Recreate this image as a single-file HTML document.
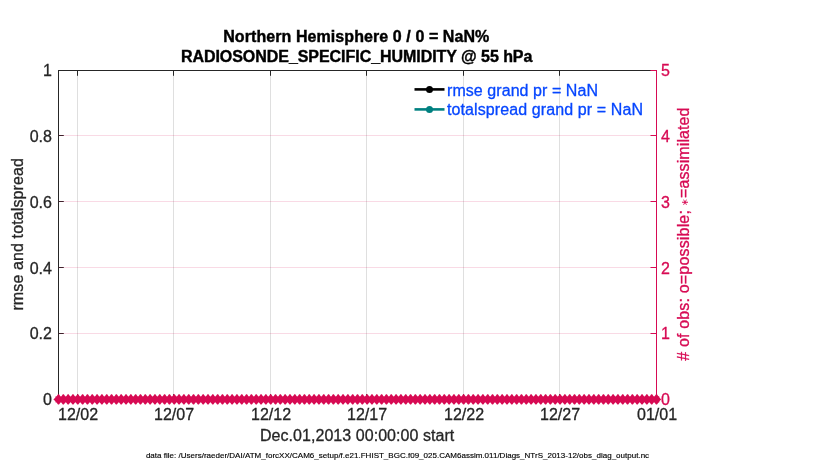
<!DOCTYPE html>
<html lang="en"><head><meta charset="utf-8"><title>RADIOSONDE_SPECIFIC_HUMIDITY @ 55 hPa</title>
<style>html,body{margin:0;padding:0;background:#fff;}body{width:830px;height:470px;overflow:hidden;}svg{display:block;font-family:'Liberation Sans', sans-serif;}text{white-space:pre;}</style>
</head><body>
<svg width="830" height="470" viewBox="0 0 830 470">
<rect x="0" y="0" width="830" height="470" fill="#ffffff"/>
<g stroke="#262626" stroke-opacity="0.15" stroke-width="1">
<line x1="77.50" y1="70.5" x2="77.50" y2="399.5"/>
<line x1="173.50" y1="70.5" x2="173.50" y2="399.5"/>
<line x1="270.50" y1="70.5" x2="270.50" y2="399.5"/>
<line x1="366.50" y1="70.5" x2="366.50" y2="399.5"/>
<line x1="463.50" y1="70.5" x2="463.50" y2="399.5"/>
<line x1="559.50" y1="70.5" x2="559.50" y2="399.5"/>
</g>
<g stroke="#262626" stroke-width="1" fill="none">
<line x1="58.5" y1="70.0" x2="58.5" y2="400.0"/>
<line x1="58.0" y1="70.5" x2="656.5" y2="70.5"/>
<line x1="58.5" y1="399.5" x2="656.5" y2="399.5"/>
<line x1="77.50" y1="70.5" x2="77.50" y2="75.8"/>
<line x1="77.50" y1="399.5" x2="77.50" y2="394.2"/>
<line x1="173.50" y1="70.5" x2="173.50" y2="75.8"/>
<line x1="173.50" y1="399.5" x2="173.50" y2="394.2"/>
<line x1="270.50" y1="70.5" x2="270.50" y2="75.8"/>
<line x1="270.50" y1="399.5" x2="270.50" y2="394.2"/>
<line x1="366.50" y1="70.5" x2="366.50" y2="75.8"/>
<line x1="366.50" y1="399.5" x2="366.50" y2="394.2"/>
<line x1="463.50" y1="70.5" x2="463.50" y2="75.8"/>
<line x1="463.50" y1="399.5" x2="463.50" y2="394.2"/>
<line x1="559.50" y1="70.5" x2="559.50" y2="75.8"/>
<line x1="559.50" y1="399.5" x2="559.50" y2="394.2"/>
<line x1="58.5" y1="399.50" x2="63.8" y2="399.50"/>
<line x1="58.5" y1="333.50" x2="63.8" y2="333.50"/>
<line x1="58.5" y1="267.50" x2="63.8" y2="267.50"/>
<line x1="58.5" y1="201.50" x2="63.8" y2="201.50"/>
<line x1="58.5" y1="135.50" x2="63.8" y2="135.50"/>
<line x1="58.5" y1="70.50" x2="63.8" y2="70.50"/>
</g>
<g stroke="#d70a53" stroke-opacity="0.15" stroke-width="1">
<line x1="58.5" y1="333.50" x2="656.5" y2="333.50"/>
<line x1="58.5" y1="267.50" x2="656.5" y2="267.50"/>
<line x1="58.5" y1="201.50" x2="656.5" y2="201.50"/>
<line x1="58.5" y1="135.50" x2="656.5" y2="135.50"/>
</g>
<g stroke="#d70a53" stroke-width="1" fill="none">
<line x1="656.5" y1="70.0" x2="656.5" y2="400.0"/>
<line x1="656.5" y1="399.50" x2="650.5" y2="399.50"/>
<line x1="656.5" y1="333.50" x2="650.5" y2="333.50"/>
<line x1="656.5" y1="267.50" x2="650.5" y2="267.50"/>
<line x1="656.5" y1="201.50" x2="650.5" y2="201.50"/>
<line x1="656.5" y1="135.50" x2="650.5" y2="135.50"/>
<line x1="656.5" y1="70.50" x2="650.5" y2="70.50"/>
</g>
<path fill="#d70a53" stroke="none" d="M661.2 399.4l-1.6 -1.6l-0.5 -1.5h-2.6v6.2h2.6l0.5 -1.5z"/>
<path fill="#d70a53" stroke="none" d="M56.50 396.4l1.5 -2.2h1l1.5 2.2v6l-1.5 2.2h-1l-1.5 -2.2zM61.32 396.4l1.5 -2.2h1l1.5 2.2v6l-1.5 2.2h-1l-1.5 -2.2zM66.15 396.4l1.5 -2.2h1l1.5 2.2v6l-1.5 2.2h-1l-1.5 -2.2zM70.97 396.4l1.5 -2.2h1l1.5 2.2v6l-1.5 2.2h-1l-1.5 -2.2zM75.79 396.4l1.5 -2.2h1l1.5 2.2v6l-1.5 2.2h-1l-1.5 -2.2zM80.61 396.4l1.5 -2.2h1l1.5 2.2v6l-1.5 2.2h-1l-1.5 -2.2zM85.44 396.4l1.5 -2.2h1l1.5 2.2v6l-1.5 2.2h-1l-1.5 -2.2zM90.26 396.4l1.5 -2.2h1l1.5 2.2v6l-1.5 2.2h-1l-1.5 -2.2zM95.08 396.4l1.5 -2.2h1l1.5 2.2v6l-1.5 2.2h-1l-1.5 -2.2zM99.90 396.4l1.5 -2.2h1l1.5 2.2v6l-1.5 2.2h-1l-1.5 -2.2zM104.73 396.4l1.5 -2.2h1l1.5 2.2v6l-1.5 2.2h-1l-1.5 -2.2zM109.55 396.4l1.5 -2.2h1l1.5 2.2v6l-1.5 2.2h-1l-1.5 -2.2zM114.37 396.4l1.5 -2.2h1l1.5 2.2v6l-1.5 2.2h-1l-1.5 -2.2zM119.19 396.4l1.5 -2.2h1l1.5 2.2v6l-1.5 2.2h-1l-1.5 -2.2zM124.02 396.4l1.5 -2.2h1l1.5 2.2v6l-1.5 2.2h-1l-1.5 -2.2zM128.84 396.4l1.5 -2.2h1l1.5 2.2v6l-1.5 2.2h-1l-1.5 -2.2zM133.66 396.4l1.5 -2.2h1l1.5 2.2v6l-1.5 2.2h-1l-1.5 -2.2zM138.48 396.4l1.5 -2.2h1l1.5 2.2v6l-1.5 2.2h-1l-1.5 -2.2zM143.31 396.4l1.5 -2.2h1l1.5 2.2v6l-1.5 2.2h-1l-1.5 -2.2zM148.13 396.4l1.5 -2.2h1l1.5 2.2v6l-1.5 2.2h-1l-1.5 -2.2zM152.95 396.4l1.5 -2.2h1l1.5 2.2v6l-1.5 2.2h-1l-1.5 -2.2zM157.77 396.4l1.5 -2.2h1l1.5 2.2v6l-1.5 2.2h-1l-1.5 -2.2zM162.60 396.4l1.5 -2.2h1l1.5 2.2v6l-1.5 2.2h-1l-1.5 -2.2zM167.42 396.4l1.5 -2.2h1l1.5 2.2v6l-1.5 2.2h-1l-1.5 -2.2zM172.24 396.4l1.5 -2.2h1l1.5 2.2v6l-1.5 2.2h-1l-1.5 -2.2zM177.06 396.4l1.5 -2.2h1l1.5 2.2v6l-1.5 2.2h-1l-1.5 -2.2zM181.89 396.4l1.5 -2.2h1l1.5 2.2v6l-1.5 2.2h-1l-1.5 -2.2zM186.71 396.4l1.5 -2.2h1l1.5 2.2v6l-1.5 2.2h-1l-1.5 -2.2zM191.53 396.4l1.5 -2.2h1l1.5 2.2v6l-1.5 2.2h-1l-1.5 -2.2zM196.35 396.4l1.5 -2.2h1l1.5 2.2v6l-1.5 2.2h-1l-1.5 -2.2zM201.18 396.4l1.5 -2.2h1l1.5 2.2v6l-1.5 2.2h-1l-1.5 -2.2zM206.00 396.4l1.5 -2.2h1l1.5 2.2v6l-1.5 2.2h-1l-1.5 -2.2zM210.82 396.4l1.5 -2.2h1l1.5 2.2v6l-1.5 2.2h-1l-1.5 -2.2zM215.65 396.4l1.5 -2.2h1l1.5 2.2v6l-1.5 2.2h-1l-1.5 -2.2zM220.47 396.4l1.5 -2.2h1l1.5 2.2v6l-1.5 2.2h-1l-1.5 -2.2zM225.29 396.4l1.5 -2.2h1l1.5 2.2v6l-1.5 2.2h-1l-1.5 -2.2zM230.11 396.4l1.5 -2.2h1l1.5 2.2v6l-1.5 2.2h-1l-1.5 -2.2zM234.94 396.4l1.5 -2.2h1l1.5 2.2v6l-1.5 2.2h-1l-1.5 -2.2zM239.76 396.4l1.5 -2.2h1l1.5 2.2v6l-1.5 2.2h-1l-1.5 -2.2zM244.58 396.4l1.5 -2.2h1l1.5 2.2v6l-1.5 2.2h-1l-1.5 -2.2zM249.40 396.4l1.5 -2.2h1l1.5 2.2v6l-1.5 2.2h-1l-1.5 -2.2zM254.23 396.4l1.5 -2.2h1l1.5 2.2v6l-1.5 2.2h-1l-1.5 -2.2zM259.05 396.4l1.5 -2.2h1l1.5 2.2v6l-1.5 2.2h-1l-1.5 -2.2zM263.87 396.4l1.5 -2.2h1l1.5 2.2v6l-1.5 2.2h-1l-1.5 -2.2zM268.69 396.4l1.5 -2.2h1l1.5 2.2v6l-1.5 2.2h-1l-1.5 -2.2zM273.52 396.4l1.5 -2.2h1l1.5 2.2v6l-1.5 2.2h-1l-1.5 -2.2zM278.34 396.4l1.5 -2.2h1l1.5 2.2v6l-1.5 2.2h-1l-1.5 -2.2zM283.16 396.4l1.5 -2.2h1l1.5 2.2v6l-1.5 2.2h-1l-1.5 -2.2zM287.98 396.4l1.5 -2.2h1l1.5 2.2v6l-1.5 2.2h-1l-1.5 -2.2zM292.81 396.4l1.5 -2.2h1l1.5 2.2v6l-1.5 2.2h-1l-1.5 -2.2zM297.63 396.4l1.5 -2.2h1l1.5 2.2v6l-1.5 2.2h-1l-1.5 -2.2zM302.45 396.4l1.5 -2.2h1l1.5 2.2v6l-1.5 2.2h-1l-1.5 -2.2zM307.27 396.4l1.5 -2.2h1l1.5 2.2v6l-1.5 2.2h-1l-1.5 -2.2zM312.10 396.4l1.5 -2.2h1l1.5 2.2v6l-1.5 2.2h-1l-1.5 -2.2zM316.92 396.4l1.5 -2.2h1l1.5 2.2v6l-1.5 2.2h-1l-1.5 -2.2zM321.74 396.4l1.5 -2.2h1l1.5 2.2v6l-1.5 2.2h-1l-1.5 -2.2zM326.56 396.4l1.5 -2.2h1l1.5 2.2v6l-1.5 2.2h-1l-1.5 -2.2zM331.39 396.4l1.5 -2.2h1l1.5 2.2v6l-1.5 2.2h-1l-1.5 -2.2zM336.21 396.4l1.5 -2.2h1l1.5 2.2v6l-1.5 2.2h-1l-1.5 -2.2zM341.03 396.4l1.5 -2.2h1l1.5 2.2v6l-1.5 2.2h-1l-1.5 -2.2zM345.85 396.4l1.5 -2.2h1l1.5 2.2v6l-1.5 2.2h-1l-1.5 -2.2zM350.68 396.4l1.5 -2.2h1l1.5 2.2v6l-1.5 2.2h-1l-1.5 -2.2zM355.50 396.4l1.5 -2.2h1l1.5 2.2v6l-1.5 2.2h-1l-1.5 -2.2zM360.32 396.4l1.5 -2.2h1l1.5 2.2v6l-1.5 2.2h-1l-1.5 -2.2zM365.15 396.4l1.5 -2.2h1l1.5 2.2v6l-1.5 2.2h-1l-1.5 -2.2zM369.97 396.4l1.5 -2.2h1l1.5 2.2v6l-1.5 2.2h-1l-1.5 -2.2zM374.79 396.4l1.5 -2.2h1l1.5 2.2v6l-1.5 2.2h-1l-1.5 -2.2zM379.61 396.4l1.5 -2.2h1l1.5 2.2v6l-1.5 2.2h-1l-1.5 -2.2zM384.44 396.4l1.5 -2.2h1l1.5 2.2v6l-1.5 2.2h-1l-1.5 -2.2zM389.26 396.4l1.5 -2.2h1l1.5 2.2v6l-1.5 2.2h-1l-1.5 -2.2zM394.08 396.4l1.5 -2.2h1l1.5 2.2v6l-1.5 2.2h-1l-1.5 -2.2zM398.90 396.4l1.5 -2.2h1l1.5 2.2v6l-1.5 2.2h-1l-1.5 -2.2zM403.73 396.4l1.5 -2.2h1l1.5 2.2v6l-1.5 2.2h-1l-1.5 -2.2zM408.55 396.4l1.5 -2.2h1l1.5 2.2v6l-1.5 2.2h-1l-1.5 -2.2zM413.37 396.4l1.5 -2.2h1l1.5 2.2v6l-1.5 2.2h-1l-1.5 -2.2zM418.19 396.4l1.5 -2.2h1l1.5 2.2v6l-1.5 2.2h-1l-1.5 -2.2zM423.02 396.4l1.5 -2.2h1l1.5 2.2v6l-1.5 2.2h-1l-1.5 -2.2zM427.84 396.4l1.5 -2.2h1l1.5 2.2v6l-1.5 2.2h-1l-1.5 -2.2zM432.66 396.4l1.5 -2.2h1l1.5 2.2v6l-1.5 2.2h-1l-1.5 -2.2zM437.48 396.4l1.5 -2.2h1l1.5 2.2v6l-1.5 2.2h-1l-1.5 -2.2zM442.31 396.4l1.5 -2.2h1l1.5 2.2v6l-1.5 2.2h-1l-1.5 -2.2zM447.13 396.4l1.5 -2.2h1l1.5 2.2v6l-1.5 2.2h-1l-1.5 -2.2zM451.95 396.4l1.5 -2.2h1l1.5 2.2v6l-1.5 2.2h-1l-1.5 -2.2zM456.77 396.4l1.5 -2.2h1l1.5 2.2v6l-1.5 2.2h-1l-1.5 -2.2zM461.60 396.4l1.5 -2.2h1l1.5 2.2v6l-1.5 2.2h-1l-1.5 -2.2zM466.42 396.4l1.5 -2.2h1l1.5 2.2v6l-1.5 2.2h-1l-1.5 -2.2zM471.24 396.4l1.5 -2.2h1l1.5 2.2v6l-1.5 2.2h-1l-1.5 -2.2zM476.06 396.4l1.5 -2.2h1l1.5 2.2v6l-1.5 2.2h-1l-1.5 -2.2zM480.89 396.4l1.5 -2.2h1l1.5 2.2v6l-1.5 2.2h-1l-1.5 -2.2zM485.71 396.4l1.5 -2.2h1l1.5 2.2v6l-1.5 2.2h-1l-1.5 -2.2zM490.53 396.4l1.5 -2.2h1l1.5 2.2v6l-1.5 2.2h-1l-1.5 -2.2zM495.35 396.4l1.5 -2.2h1l1.5 2.2v6l-1.5 2.2h-1l-1.5 -2.2zM500.18 396.4l1.5 -2.2h1l1.5 2.2v6l-1.5 2.2h-1l-1.5 -2.2zM505.00 396.4l1.5 -2.2h1l1.5 2.2v6l-1.5 2.2h-1l-1.5 -2.2zM509.82 396.4l1.5 -2.2h1l1.5 2.2v6l-1.5 2.2h-1l-1.5 -2.2zM514.65 396.4l1.5 -2.2h1l1.5 2.2v6l-1.5 2.2h-1l-1.5 -2.2zM519.47 396.4l1.5 -2.2h1l1.5 2.2v6l-1.5 2.2h-1l-1.5 -2.2zM524.29 396.4l1.5 -2.2h1l1.5 2.2v6l-1.5 2.2h-1l-1.5 -2.2zM529.11 396.4l1.5 -2.2h1l1.5 2.2v6l-1.5 2.2h-1l-1.5 -2.2zM533.94 396.4l1.5 -2.2h1l1.5 2.2v6l-1.5 2.2h-1l-1.5 -2.2zM538.76 396.4l1.5 -2.2h1l1.5 2.2v6l-1.5 2.2h-1l-1.5 -2.2zM543.58 396.4l1.5 -2.2h1l1.5 2.2v6l-1.5 2.2h-1l-1.5 -2.2zM548.40 396.4l1.5 -2.2h1l1.5 2.2v6l-1.5 2.2h-1l-1.5 -2.2zM553.23 396.4l1.5 -2.2h1l1.5 2.2v6l-1.5 2.2h-1l-1.5 -2.2zM558.05 396.4l1.5 -2.2h1l1.5 2.2v6l-1.5 2.2h-1l-1.5 -2.2zM562.87 396.4l1.5 -2.2h1l1.5 2.2v6l-1.5 2.2h-1l-1.5 -2.2zM567.69 396.4l1.5 -2.2h1l1.5 2.2v6l-1.5 2.2h-1l-1.5 -2.2zM572.52 396.4l1.5 -2.2h1l1.5 2.2v6l-1.5 2.2h-1l-1.5 -2.2zM577.34 396.4l1.5 -2.2h1l1.5 2.2v6l-1.5 2.2h-1l-1.5 -2.2zM582.16 396.4l1.5 -2.2h1l1.5 2.2v6l-1.5 2.2h-1l-1.5 -2.2zM586.98 396.4l1.5 -2.2h1l1.5 2.2v6l-1.5 2.2h-1l-1.5 -2.2zM591.81 396.4l1.5 -2.2h1l1.5 2.2v6l-1.5 2.2h-1l-1.5 -2.2zM596.63 396.4l1.5 -2.2h1l1.5 2.2v6l-1.5 2.2h-1l-1.5 -2.2zM601.45 396.4l1.5 -2.2h1l1.5 2.2v6l-1.5 2.2h-1l-1.5 -2.2zM606.27 396.4l1.5 -2.2h1l1.5 2.2v6l-1.5 2.2h-1l-1.5 -2.2zM611.10 396.4l1.5 -2.2h1l1.5 2.2v6l-1.5 2.2h-1l-1.5 -2.2zM615.92 396.4l1.5 -2.2h1l1.5 2.2v6l-1.5 2.2h-1l-1.5 -2.2zM620.74 396.4l1.5 -2.2h1l1.5 2.2v6l-1.5 2.2h-1l-1.5 -2.2zM625.56 396.4l1.5 -2.2h1l1.5 2.2v6l-1.5 2.2h-1l-1.5 -2.2zM630.39 396.4l1.5 -2.2h1l1.5 2.2v6l-1.5 2.2h-1l-1.5 -2.2zM635.21 396.4l1.5 -2.2h1l1.5 2.2v6l-1.5 2.2h-1l-1.5 -2.2zM640.03 396.4l1.5 -2.2h1l1.5 2.2v6l-1.5 2.2h-1l-1.5 -2.2zM644.85 396.4l1.5 -2.2h1l1.5 2.2v6l-1.5 2.2h-1l-1.5 -2.2zM649.68 396.4l1.5 -2.2h1l1.5 2.2v6l-1.5 2.2h-1l-1.5 -2.2zM654.50 396.4l1.5 -2.2h1l1.5 2.2v6l-1.5 2.2h-1l-1.5 -2.2zM53.4 399.4l1.8 -1.6l0.5 -1.5h2.8v6.2h-2.8l-0.5 -1.5z"/>
<rect x="57.5" y="396.4" width="600.0" height="6" fill="#d70a53"/>
<g fill="#262626" stroke="#262626" stroke-width="0.3" font-size="16px">
<text x="78.10" y="419.6" text-anchor="middle">12/02</text>
<text x="174.10" y="419.6" text-anchor="middle">12/07</text>
<text x="271.10" y="419.6" text-anchor="middle">12/12</text>
<text x="367.10" y="419.6" text-anchor="middle">12/17</text>
<text x="464.10" y="419.6" text-anchor="middle">12/22</text>
<text x="560.10" y="419.6" text-anchor="middle">12/27</text>
<text x="657.10" y="419.6" text-anchor="middle">01/01</text>
<text x="51.9" y="405.10" text-anchor="end">0</text>
<text x="51.9" y="339.30" text-anchor="end">0.2</text>
<text x="51.9" y="273.50" text-anchor="end">0.4</text>
<text x="51.9" y="207.70" text-anchor="end">0.6</text>
<text x="51.9" y="141.90" text-anchor="end">0.8</text>
<text x="51.9" y="76.10" text-anchor="end">1</text>
<text x="260.0" y="440.8" textLength="194.2" lengthAdjust="spacing">Dec.01,2013 00:00:00 start</text>
<text transform="translate(22.6 310.6) rotate(-90)" textLength="152.6" lengthAdjust="spacing">rmse and totalspread</text>
</g>
<g fill="#d70a53" stroke="#d70a53" stroke-width="0.3" font-size="16px">
<text x="661" y="405.10">0</text>
<text x="661" y="339.30">1</text>
<text x="661" y="273.50">2</text>
<text x="661" y="207.70">3</text>
<text x="661" y="141.90">4</text>
<text x="661" y="76.10">5</text>
<text transform="translate(688.5 360.8) rotate(-90)"><tspan x="0" y="0" textLength="150.7" lengthAdjust="spacing"># of obs: o=possible;</tspan> <tspan x="154.9" y="-0.9" font-size="9.5px" stroke-width="0" font-family="'Liberation Sans', 'DejaVu Sans', sans-serif">∗</tspan><tspan x="162.9" y="0" textLength="90.4" lengthAdjust="spacing">=assimilated</tspan></text>
</g>
<g fill="#000000" stroke="#000000" stroke-width="0.4" font-size="16px" font-weight="bold">
<text x="223.2" y="41.6" textLength="266.1" lengthAdjust="spacing">Northern Hemisphere 0 / 0 = NaN%</text>
<text x="180.9" y="62.4" textLength="351.5" lengthAdjust="spacing">RADIOSONDE_SPECIFIC_HUMIDITY @ 55 hPa</text>
</g>
<g stroke-width="2.6" fill="none">
<line x1="414.5" y1="89.4" x2="444.5" y2="89.4" stroke="#000"/>
<line x1="414.5" y1="109.4" x2="444.5" y2="109.4" stroke="#008080"/>
</g>
<circle cx="429.5" cy="89.4" r="3.5" fill="#000"/>
<circle cx="429.5" cy="109.4" r="3.5" fill="#008080"/>
<g fill="#0646ff" stroke="#0646ff" stroke-width="0.3" font-size="16px">
<text x="447" y="95.6" textLength="151" lengthAdjust="spacing">rmse grand pr = NaN</text>
<text x="447" y="115.4" textLength="196" lengthAdjust="spacing">totalspread grand pr = NaN</text>
</g>
<text x="145.9" y="457.7" font-size="8px" fill="#000" stroke="#000" stroke-width="0.15" textLength="503.2" lengthAdjust="spacing">data file: /Users/raeder/DAI/ATM_forcXX/CAM6_setup/f.e21.FHIST_BGC.f09_025.CAM6assim.011/Diags_NTrS_2013-12/obs_diag_output.nc</text>
</svg>
</body></html>
